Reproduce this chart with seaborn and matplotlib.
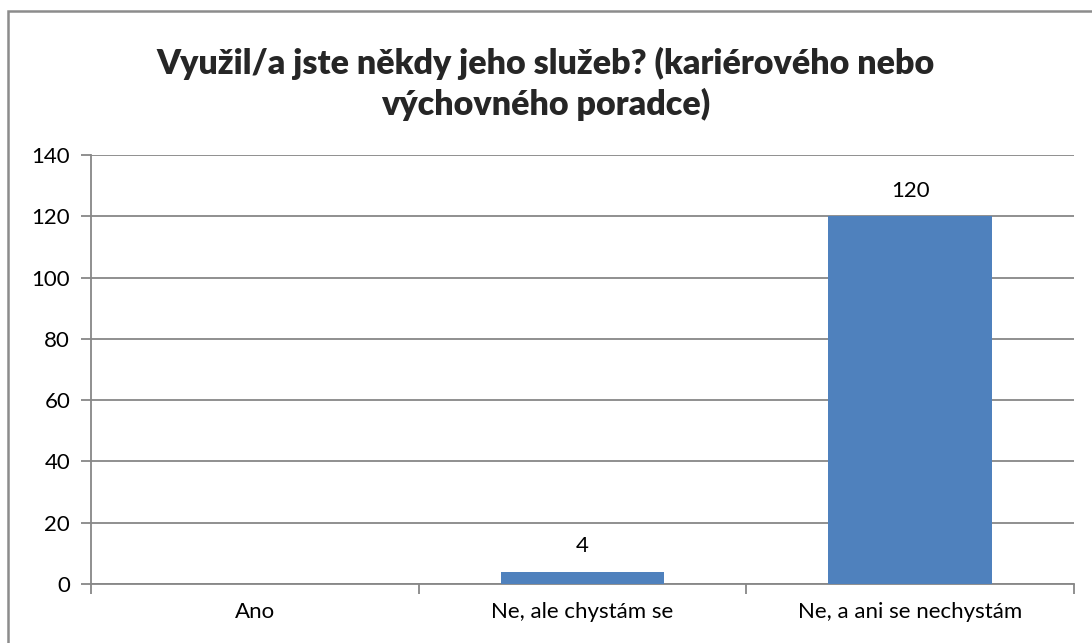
import matplotlib
matplotlib.use("Agg")
import matplotlib.pyplot as plt
from matplotlib.patches import Rectangle
import seaborn as sns
import pandas as pd

# chart data
categories = ["Ano", "Ne, ale chystám se", "Ne, a ani se nechystám"]
counts = [0, 4, 120]
y_ticks = [0, 20, 40, 60, 80, 100, 120, 140]
title = "Využil/a jste někdy jeho služeb? (kariérového nebo\nvýchovného poradce)"

BAR_COLOR = "#4F81BD"
GRID_COLOR = "#878787"

sns.set_theme(style="white")
plt.rcParams["font.family"] = ["Lato", "DejaVu Sans"]

df = pd.DataFrame({"category": categories, "count": counts})

fig = plt.figure(figsize=(10.92, 6.43), dpi=100)
ax = fig.add_axes([91 / 1092, 59 / 643, 983 / 1092, 429 / 643])

sns.barplot(data=df, x="category", y="count", color=BAR_COLOR, width=0.5,
            saturation=1, linewidth=0, edgecolor="none", ax=ax, zorder=3)

# value labels, Excel hides the zero one
labels = [str(v) if v != 0 else "" for v in counts]
ax.bar_label(ax.containers[0], labels=labels, padding=11, fontsize=16, color="black")

ax.set_ylim(0, 140)
ax.set_yticks(y_ticks)
ax.set_xlim(-0.5, len(categories) - 0.5)
ax.yaxis.grid(True, color=GRID_COLOR, linewidth=1.3, zorder=0)
ax.set_axisbelow(True)
ax.set_xlabel("")
ax.set_ylabel("")

# tick marks between categories like Excel
ax.set_xticks([i - 0.5 for i in range(len(categories) + 1)], minor=True)
ax.tick_params(axis="x", which="major", length=0, pad=13, labelsize=16, colors="black")
ax.tick_params(axis="x", which="minor", length=7, width=1.3, color=GRID_COLOR, direction="out", bottom=True)
ax.tick_params(axis="y", length=7, width=1.3, color=GRID_COLOR, direction="out", left=True,
               labelsize=16, pad=8, labelcolor="black")

for side in ["top", "right"]:
    ax.spines[side].set_visible(False)
for side in ["left", "bottom"]:
    ax.spines[side].set_color(GRID_COLOR)
    ax.spines[side].set_linewidth(1.3)

fig.text(0.5, 1 - 84 / 643, title, ha="center", va="center", fontsize=24.5,
         fontweight="heavy", linespacing=1.28)

# outer chart border (only top/left visible in the reference)
fig.patches.append(Rectangle((7.5 / 1092, -0.1), 1.2, 1.1 - 10.5 / 643, transform=fig.transFigure,
                             fill=False, edgecolor="#8c8c8c", linewidth=1.8))

fig.savefig("out.png", dpi=100)
